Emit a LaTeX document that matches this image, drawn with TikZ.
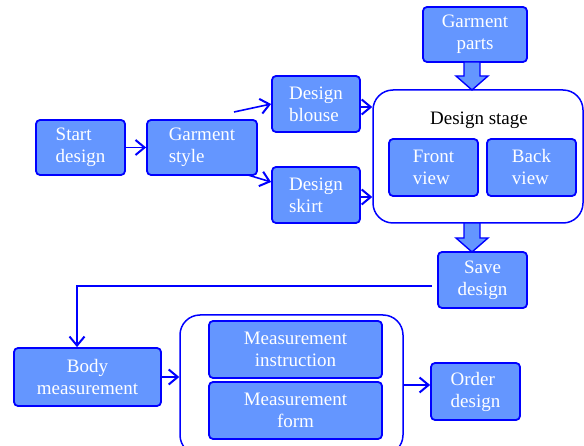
\documentclass[tikz,border=0pt]{standalone}
\usepackage{fontspec}
\setmainfont{Liberation Serif}
\usetikzlibrary{arrows.meta,calc}
\definecolor{boxfill}{RGB}{100,150,255}
\definecolor{lineblue}{RGB}{0,0,255}
\tikzset{
  box/.style={draw=lineblue, fill=boxfill, line width=1.8pt, rounded corners=4pt,
    text=white, inner sep=0pt, align=left, font=\fontsize{19}{22}\selectfont},
  cbox/.style={box, align=center},
  container/.style={draw=lineblue, line width=1.5pt, rounded corners=20pt, inner sep=0pt},
  conn/.style={draw=lineblue, line width=1.6pt, -{Straight Barb[length=9pt,width=15pt,line width=2pt]}},
  plainline/.style={draw=lineblue, line width=1.6pt},
  barrow/.style={draw=lineblue, fill=boxfill, line width=1.4pt, line join=miter},
}
\begin{document}
\begin{tikzpicture}[x=1pt,y=-1pt]
\clip (0,0) rectangle (584,446);
\fill[white] (0,0) rectangle (584,446);
% top row
\node[box, minimum width=89pt, minimum height=55pt] (start) at (80.5,147.5) {Start\\design};
\node[box, minimum width=110pt, minimum height=55pt] (style) at (202,147.5) {Garment\\style};
\node[box, minimum width=88pt, minimum height=56pt] (blouse) at (316,104) {Design\\blouse};
\node[box, minimum width=88pt, minimum height=56pt] (skirt) at (316,195) {Design\\skirt};
\node[cbox, minimum width=104pt, minimum height=55pt] (parts) at (475,34.5) {Garment\\parts};
\node[container, minimum width=210pt, minimum height=133pt] (stage) at (478,156.5) {};
\node[font=\fontsize{19}{22}\selectfont, text=black] (stagelbl) at (479,120) {Design stage};
\node[box, minimum width=89pt, minimum height=57pt] (front) at (433.5,167.5) {Front\\view};
\node[box, minimum width=89pt, minimum height=57pt] (back) at (531.5,167.5) {Back\\view};
\node[cbox, minimum width=89pt, minimum height=56pt] (save) at (482.5,280) {Save\\design};
% bottom row
\node[cbox, minimum width=147pt, minimum height=58pt] (body) at (87.5,377) {Body\\measurement};
\node[container, minimum width=223pt, minimum height=140pt] (mcont) at (291.5,385) {};
\node[cbox, minimum width=173pt, minimum height=57pt] (minstr) at (295.5,349.5) {Measurement\\instruction};
\node[cbox, minimum width=173pt, minimum height=57pt] (mform) at (295.5,410.5) {Measurement\\form};
\node[box, minimum width=89pt, minimum height=57pt] (order) at (475.5,391.5) {Order\\design};
% connectors
\draw[conn] (start.east) -- (style.west);
\coordinate (c1) at (234,112);
\draw[conn] (c1) -- (blouse.west);
\coordinate (c2) at (248,175);
\draw[conn] (c2) -- ([yshift=13pt]skirt.west);
\draw[conn] ([yshift=-3pt]blouse.east) -- ([yshift=-3pt]blouse.east -| stage.west);
\draw[conn] ([yshift=-2pt]skirt.east) -- ([yshift=-2pt]skirt.east -| stage.west);
\coordinate (t1) at (472,62);
\draw[barrow] (t1) ++(-8,0) -- ++(16,0) -- ++(0,14) -- ++(8,0) -- ++(-16,14) -- ++(-16,-14) -- ++(8,0) -- cycle;
\coordinate (t2) at (472,223);
\draw[barrow] (t2) ++(-8,0) -- ++(16,0) -- ++(0,15) -- ++(8,0) -- ++(-16,14) -- ++(-16,-14) -- ++(8,0) -- cycle;
\coordinate (c3) at (432,286);
\draw[conn] (c3) -| ([xshift=-10.5pt]body.north);
\draw[conn] (body.east) -- (body.east -| mcont.west);
\draw[conn] ([yshift=6.5pt]order.west -| mcont.east) -- ([yshift=6.5pt]order.west);
\end{tikzpicture}
\end{document}
